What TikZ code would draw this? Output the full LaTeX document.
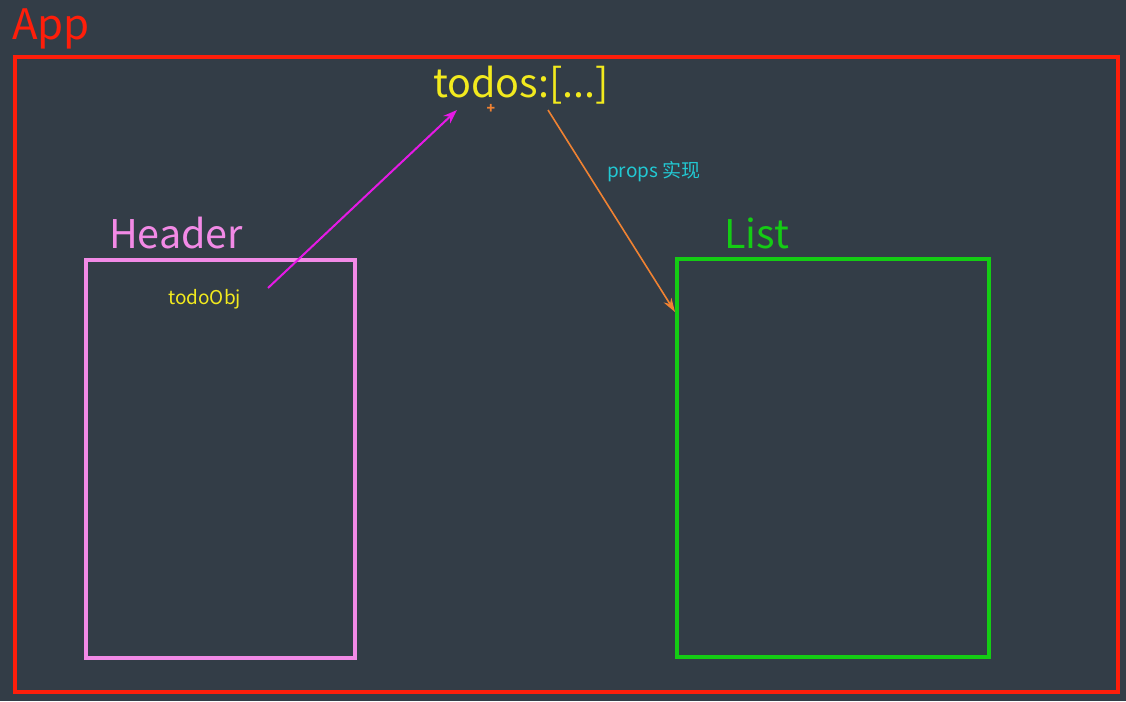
\documentclass[tikz,border=0pt]{standalone}
\usepackage{fontspec}
\setmainfont{Noto Sans CJK SC}
\usetikzlibrary{arrows.meta}
\definecolor{bg}{HTML}{333D47}
\definecolor{appred}{HTML}{FF1E0A}
\definecolor{hdrpink}{HTML}{F28AE6}
\definecolor{lstgreen}{HTML}{14CC14}
\definecolor{txtyellow}{HTML}{F2EA1E}
\definecolor{magarrow}{HTML}{E619E6}
\definecolor{orgarrow}{HTML}{F08232}
\definecolor{propcyan}{HTML}{22C8D2}
\tikzset{
  frame/.style={draw, line width=4pt, inner sep=0pt, outer sep=0pt},
  bigtext/.style={anchor=base west, inner sep=0pt, font=\fontsize{39.5}{41}\selectfont},
  smalltext/.style={anchor=base west, inner sep=0pt, font=\fontsize{19}{21}\selectfont},
}
\begin{document}
\begin{tikzpicture}[x=1pt,y=-1pt]
\fill[bg] (0,0) rectangle (1126,701);
\useasboundingbox (0,0) rectangle (1126,701);
% App
\node[bigtext, text=appred, font=\fontsize{42}{44}\selectfont] (applabel) at (12,40) {App};
\node[frame, draw=appred, minimum width=1103pt, minimum height=635pt, anchor=north west] (app) at (15,57) {};
% todos
\node[bigtext, text=txtyellow] (todos) at (433,97) {todos:[...]};
\node[inner sep=0pt, text=orgarrow, font=\fontsize{14}{14}\selectfont\bfseries] (plus) at (491,109) {+};
% Header
\node[bigtext, text=hdrpink] (hdrlabel) at (109,248) {Header};
\node[frame, draw=hdrpink, minimum width=269pt, minimum height=398pt, anchor=north west] (header) at (86,260) {};
\node[smalltext, text=txtyellow] (todoobj) at (168,304) {todoObj};
% List
\node[bigtext, text=lstgreen] (lstlabel) at (724,248) {List};
\node[frame, draw=lstgreen, minimum width=312pt, minimum height=398pt, anchor=north west] (list) at (677,259) {};
% props
\node[smalltext, text=propcyan] (props) at (607,177) {props 实现};
% arrows
\coordinate (magstart) at (268,288);
\coordinate (magend) at (457,110);
\draw[magarrow, line width=2pt, -{Stealth[length=14pt,width=10pt]}] (magstart) -- (magend);
\coordinate (orgstart) at (548,110);
\coordinate (orgend) at (675,312);
\draw[orgarrow, line width=1.6pt, -{Stealth[length=14pt,width=9pt]}] (orgstart) -- (orgend);
\end{tikzpicture}
\end{document}
